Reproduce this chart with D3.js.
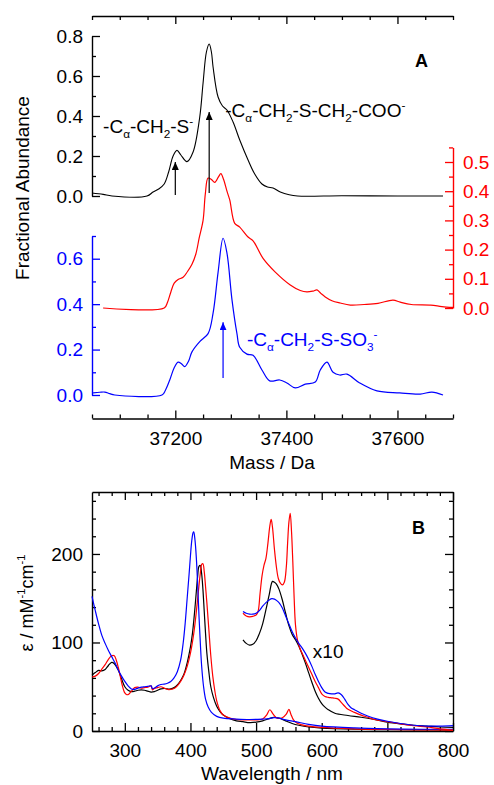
<!DOCTYPE html>
<html><head><meta charset="utf-8">
<script src="https://cdn.jsdelivr.net/npm/d3@7"></script>
<style>body{margin:0;background:#fff} svg{display:block} text{font-family:"Liberation Sans",Arial,Helvetica,sans-serif}</style>
</head><body><svg id="c" width="494" height="785"></svg>
<script>
// ---------- Panel A data (mass spectra) ----------
const blackMass = [37050,37070,37086,37149,37160,37170,37180,37188,37196,37203,37210,37221,37232,37244,37250,37256,37261,37265,37268,37277,37285,37293,37304,37316,37331,37343,37356,37366,37376,37389,37405,37420,37500,37600,37682];
const blackAbund = [0.015,0.008,0.0,0.0,0.02,0.035,0.06,0.12,0.2,0.228,0.205,0.172,0.22,0.395,0.565,0.72,0.76,0.72,0.645,0.495,0.45,0.43,0.37,0.28,0.18,0.11,0.06,0.045,0.04,0.02,0.006,0.0,0.001,0.0,0.0];
const redMass = [37070,37180,37186,37192,37198,37205,37214,37222,37230,37237,37243,37250,37254,37259,37265,37271,37278,37282,37287,37293,37298,37307,37316,37331,37340,37358,37380,37407,37425,37437,37448,37455,37462,37470,37482,37497,37515,37540,37565,37592,37605,37625,37660,37680,37700];
const redAbund = [0.0,0.0,0.02,0.055,0.085,0.098,0.105,0.125,0.15,0.185,0.24,0.30,0.39,0.445,0.44,0.43,0.45,0.46,0.44,0.4,0.37,0.29,0.277,0.243,0.23,0.17,0.123,0.079,0.06,0.055,0.058,0.062,0.05,0.038,0.025,0.017,0.01,0.012,0.016,0.027,0.02,0.012,0.01,0.005,0.002];
const blueMass = [37052,37064,37073,37082,37091,37176,37182,37190,37198,37205,37211,37217,37224,37230,37244,37259,37268,37277,37286,37293,37302,37311,37316,37329,37340,37356,37370,37388,37401,37416,37434,37452,37461,37473,37484,37496,37509,37532,37563,37604,37641,37662,37682];
const blueAbund = [0.009,0.012,0.013,0.006,0.0,0.0,0.02,0.066,0.12,0.145,0.138,0.125,0.15,0.19,0.235,0.27,0.36,0.54,0.69,0.625,0.42,0.27,0.21,0.18,0.175,0.11,0.062,0.066,0.053,0.031,0.048,0.057,0.11,0.145,0.1,0.088,0.092,0.053,0.018,0.009,0.004,0.013,0.0];
const massTicksMajor = [37200,37400,37600];
const massTicksMinor = [37050,37100,37150,37250,37300,37350,37450,37500,37550,37650,37700];
const blackTicksMajor = [0,0.2,0.4,0.6,0.8], blackTicksMinor = [0.1,0.3,0.5,0.7];
const redTicksMajor = [0,0.1,0.2,0.3,0.4,0.5], redTicksMinor = [0.05,0.15,0.25,0.35,0.45,0.55];
const blueTicksMajor = [0,0.2,0.4,0.6], blueTicksMinor = [0.1,0.3,0.5,0.7];

// ---------- Panel B data (absorption spectra) ----------
const wlBlack = [250,255,260,265,270,275,280,284,290,295,300,305,310,315,320,325,330,335,340,345,350,355,360,365,370,375,380,385,390,395,400,403,406,409,411,413,415,417,419,421,423,425,428,431,435,440,445,450,460,470,480,490,500,510,520,527,535,545,555,565,580,600,650,700,750,800];
const epsBlack = [63,66,68.5,68,69.5,74,77.5,76,69,59,50,46,44.5,45,46,46.5,46,45,44,44.5,46,47.5,48,47.5,47.5,49,52,57,64,77,95,110,132,158,175,186,187,178,160,135,110,88,67,50,38,28,22,18,14,11.5,10.5,9.5,10,11.5,14,15.5,14.5,11.5,8.5,6.5,4.5,3.2,2,1.5,1.2,1];
const wlRed = [250,255,260,265,270,275,280,284,287,290,293,296,300,303,306,310,315,320,325,330,335,340,342,345,350,355,360,365,370,375,380,385,390,395,400,405,409,412,415,417,419,421,423,425,428,431,434,437,440,445,450,460,470,480,490,500,510,516,521,526,532,540,546,550,553,557,562,570,580,600,650,700,750,800];
const epsRed = [61,62,65,70,75,81,85,85,80,72,62,52,43,41,41.5,45,49,49.5,48.5,49,49.5,51,46.5,48,49,50,48.5,47,47,48,51,56,63,73,88,110,135,157,178,188,189,180,163,145,115,85,62,46,34,23,18,14.5,13,12.5,12.5,12.5,13.5,18,24,19,14.5,15,19,24.5,19,12.5,9,7,5.5,4,2.5,1.8,1.3,1];
const wlBlue = [250,255,260,265,270,275,280,285,290,295,300,305,310,315,320,325,330,335,340,342,345,350,355,360,365,370,375,380,385,389,392,395,398,400,402,404,405,407,409,411,413,415,417,420,423,427,432,440,450,470,490,510,520,527,535,545,560,580,600,650,700,750,800];
const epsBlue = [152,136,121,108,99,91,84,77,69,62,56,51,47.5,47,48.5,49.5,50,50.5,51,48,48.5,51,52.5,53,54,56,60,67,80,100,122,150,178,198,215,224,225,215,195,165,130,100,74,50,36,27,21,16.5,14.5,13.5,13,13.5,14,15,14.5,12.5,10.5,7.5,5.5,3.5,2.5,2,2];
// x10 expanded visible region
const wl10Black = [480,485,490,495,500,505,510,515,520,525,528,531,535,540,545,550,555,560,565,570,575,580,585,590,595,600,605,610,620,640,660,680,700,720,740,760,780,800];
const eps10Black = [103,99,97,98,102,110,121,137,154,169,168,166,160,148,133,119,109,103,96,87,77,66,55,45,37,31,27,24,20,17.5,15.5,13,10,8,6.5,5.5,4.5,4];
const wl10Red = [480,485,490,495,500,503,506,509,512,515,518,521,523,525,528,531,534,537,540,543,546,548,550,552,554,556,558,560,563,567,570,575,580,585,590,595,600,605,610,615,620,625,630,635,640,650,660,670,680,700,720,740,760,780,800];
const eps10Red = [133,130,129,129.5,131,135,155,175,187,195,212,232,239,230,205,185,172,167,165,168,185,212,236,246,225,190,150,120,103,93,88,80,72,64,56,49,42,39,38,37.5,37,36,32,28,24.5,21,18,15.5,13,10.5,8,6,4.5,2.5,1];
const wl10Blue = [480,485,490,495,500,505,510,515,520,524,528,532,536,540,545,550,555,560,565,570,575,580,585,590,595,600,605,610,615,620,625,630,635,640,645,650,660,670,685,700,720,740,760,780,800];
const eps10Blue = [135,133,132,132,133,136,141,145,148,149.5,149,147,144,139,130,121,112,105,99,94,88,81,73,64,56,49,44,42.5,42,42,43,41,36,30,26,24,20,17,13.5,11,8.5,6.5,5.5,5.5,6];
const wlTicksMajor = [300,400,500,600,700,800];
const wlTicksMinor = [260,280,320,340,360,380,420,440,460,480,520,540,560,580,620,640,660,680,720,740,760,780];
const epsTicksMajor = [0,100,200];
const epsTicksMinor = [20,40,60,80,120,140,160,180,220,240,260];

// ---------- setup ----------
const svg = d3.select('#c');
const FS = 19;
const BLUE = '#0000ff', RED = '#ff0000';
const xA = d3.scaleLinear().domain([37050,37700]).range([92,453]);
const yBlack = d3.scaleLinear().domain([0,0.8]).range([196,36]);
const yRed = d3.scaleLinear().domain([0,0.55]).range([308,147.4]);
const yBlue = d3.scaleLinear().domain([0,0.7]).range([395,236]);
const xB = d3.scaleLinear().domain([250,800]).range([92,453]);
const yB = d3.scaleLinear().domain([0,270]).range([731,492]);

function drawAxis(orient, scale, pos, majors, minors, fmt, color, labels, pad) {
  const mk = {left:d3.axisLeft, right:d3.axisRight, top:d3.axisTop, bottom:d3.axisBottom}[orient];
  const tr = (orient==='left'||orient==='right') ? `translate(${pos},0)` : `translate(0,${pos})`;
  const gMin = svg.append('g').attr('transform',tr)
    .call(mk(scale).tickValues(minors).tickSize(-4).tickSizeOuter(0).tickFormat(''));
  gMin.select('.domain').remove();
  const gMaj = svg.append('g').attr('transform',tr)
    .call(mk(scale).tickValues(majors).tickSize(-8).tickSizeOuter(0).tickPadding(pad||9).tickFormat(labels ? fmt : ''));
  [gMin,gMaj].forEach(g=>{
    g.style('color',color).attr('font-size',FS).attr('font-family','"Liberation Sans",Arial,sans-serif');
    g.selectAll('line').attr('stroke-width',1.3);
    g.selectAll('path').attr('stroke-width',1.4);
  });
  return gMaj;
}

// ---------- Panel A ----------
drawAxis('top', xA, 16, massTicksMajor, massTicksMinor, null, '#000', false);
drawAxis('bottom', xA, 418.5, massTicksMajor, massTicksMinor, d3.format('d'), '#000', true, 13);
drawAxis('left', yBlack, 92, blackTicksMajor, blackTicksMinor, d3.format('.1f'), '#000', true, 9);
drawAxis('left', yBlue, 92, blueTicksMajor, blueTicksMinor, d3.format('.1f'), BLUE, true, 9);
drawAxis('right', yRed, 453, redTicksMajor, redTicksMinor, d3.format('.1f'), RED, true, 10);

function series(xs, ys, xs_, ys_, color, w) {
  const pts = xs.map((x,i)=>[x, ys[i]]);
  const line = d3.line().x(d=>xs_(d[0])).y(d=>ys_(d[1])).curve(d3.curveCatmullRom.alpha(0.5));
  svg.append('path').datum(pts).attr('d',line).attr('fill','none').attr('stroke',color).attr('stroke-width',w||1.2).attr('stroke-linejoin','round');
}
series(blackMass, blackAbund, xA, yBlack, '#000', 1.1);
series(redMass, redAbund, xA, yRed, RED, 1.2);
series(blueMass, blueAbund, xA, yBlue, BLUE, 1.2);

// arrow markers
const defs = svg.append('defs');
[['ahk','#000'],['ahb',BLUE]].forEach(([id,c])=>{
  defs.append('marker').attr('id',id).attr('viewBox','0 0 8 7').attr('refX',8).attr('refY',3.5)
    .attr('markerWidth',8).attr('markerHeight',7).attr('markerUnits','userSpaceOnUse').attr('orient','auto')
    .append('path').attr('d','M0,0L8,3.5L0,7z').attr('fill',c);
});
const arrowMass = [37200, 37261];
const arrowFrom = [0.005, 0.015];
const arrowTo = [0.17, 0.42];
arrowMass.forEach((m,i)=>{
  svg.append('line').attr('x1',xA(m)).attr('x2',xA(m)).attr('y1',yBlack(arrowFrom[i])).attr('y2',yBlack(arrowTo[i]))
    .attr('stroke','#000').attr('stroke-width',1.2).attr('marker-end','url(#ahk)');
});
svg.append('line').attr('x1',xA(37286)).attr('x2',xA(37286)).attr('y1',yBlue(0.075)).attr('y2',yBlue(0.32))
  .attr('stroke',BLUE).attr('stroke-width',1.2).attr('marker-end','url(#ahb)');

// rich text helper
function rich(x, y, segs, color, fs) {
  const t = svg.append('text').attr('x',x).attr('y',y).attr('fill',color).attr('font-size',fs||FS);
  let cur = 0;
  segs.forEach(s=>{
    const target = s.sub ? 5 : s.sup ? -8 : 0;
    t.append('tspan').attr('dy', target-cur).attr('font-size', (s.sub||s.sup) ? (fs||FS)*0.62 : (fs||FS)).text(s.t);
    cur = target;
  });
  return t;
}
rich(xA(37070), yBlack(0.315), [{t:'-C'},{t:'α',sub:1},{t:'-CH'},{t:'2',sub:1},{t:'-S'},{t:'-',sup:1}], '#000');
rich(xA(37290), yBlack(0.395), [{t:'-C'},{t:'α',sub:1},{t:'-CH'},{t:'2',sub:1},{t:'-S-CH'},{t:'2',sub:1},{t:'-COO'},{t:'-',sup:1}], '#000');
rich(xA(37329), yBlue(0.216), [{t:'-C'},{t:'α',sub:1},{t:'-CH'},{t:'2',sub:1},{t:'-S-SO'},{t:'3',sub:1},{t:'-',sup:1}], BLUE);

svg.append('text').attr('x',415).attr('y',67).attr('font-size',18).attr('font-weight','bold').text('A');
svg.append('text').attr('transform','translate(29,188) rotate(-90)').attr('text-anchor','middle').attr('font-size',FS).text('Fractional Abundance');
svg.append('text').attr('x',272).attr('y',469).attr('text-anchor','middle').attr('font-size',FS).text('Mass / Da');

// ---------- Panel B ----------
drawAxis('top', xB, 492, wlTicksMajor, wlTicksMinor, null, '#000', false);
drawAxis('bottom', xB, 731, wlTicksMajor, wlTicksMinor, d3.format('d'), '#000', true, 12.5);
drawAxis('left', yB, 92, epsTicksMajor, epsTicksMinor, d3.format('d'), '#000', true, 9);
drawAxis('right', yB, 453, epsTicksMajor, epsTicksMinor, null, '#000', false);

series(wlBlack, epsBlack, xB, yB, '#000', 1.2);
series(wlRed, epsRed, xB, yB, RED, 1.2);
series(wlBlue, epsBlue, xB, yB, BLUE, 1.2);
series(wl10Black, eps10Black, xB, yB, '#000', 1.2);
series(wl10Red, eps10Red, xB, yB, RED, 1.2);
series(wl10Blue, eps10Blue, xB, yB, BLUE, 1.2);

svg.append('text').attr('x',xB(586.5)).attr('y',yB(82.5)).attr('font-size',FS).text('x10');
svg.append('text').attr('x',412).attr('y',534).attr('font-size',18).attr('font-weight','bold').text('B');
rich(0,0,[{t:'ε / mM'},{t:'-1',sup:1},{t:'cm'},{t:'-1',sup:1}], '#000', 18)
  .attr('text-anchor','middle').attr('transform','translate(33,603) rotate(-90)');
svg.append('text').attr('x',272).attr('y',780).attr('text-anchor','middle').attr('font-size',FS).text('Wavelength / nm');
</script></body></html>
